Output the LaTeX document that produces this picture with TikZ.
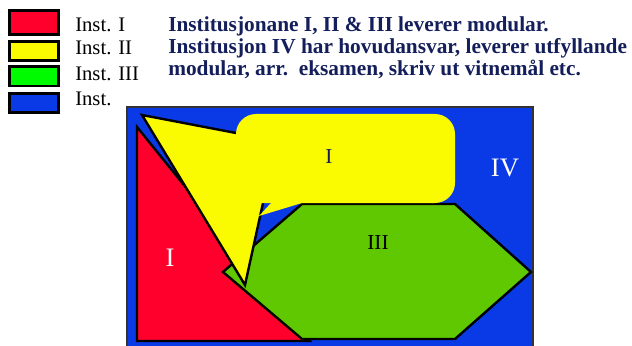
\documentclass[tikz,border=0pt]{standalone}
\usepackage{fontspec}
\setmainfont{Liberation Serif}
\usepackage{tikz}
\usetikzlibrary{positioning}
\definecolor{InstRed}{RGB}{255, 0, 45}
\definecolor{InstYellow}{RGB}{250, 250, 0}
\definecolor{InstGreen}{RGB}{0, 250, 0}
\definecolor{HexGreen}{RGB}{95, 200, 0}
\definecolor{InstBlue}{RGB}{10, 58, 230}
\definecolor{NavyText}{RGB}{20, 30, 90}

\begin{document}
\begin{tikzpicture}[
            x=0.75pt, y=-0.75pt,
            legendbox/.style={draw=black, line width=2pt, minimum width=37pt, minimum height=14.5pt, inner sep=0pt},
            legendtext/.style={anchor=base west, inner sep=0pt, font=\fontsize{15.5}{16}\selectfont},
            headline/.style={anchor=base west, inner sep=0pt, font=\fontsize{16}{16.5}\selectfont\bfseries, text=NavyText},
            region/.style={draw=black, line width=1.8pt, line join=miter},
            bigmark/.style={font=\fontsize{20}{20}\selectfont, text=white},
            smallmark/.style={font=\fontsize{16}{16}\selectfont}
        ]
        \clip (0, 0) rectangle (632, 346);

        % Legend
        \node[legendbox, fill=InstRed, minimum height=18pt] (boxI) at (34, 22.5) {};
        \node[legendbox, fill=InstYellow] (boxII) at (34, 51) {};
        \node[legendbox, fill=InstGreen] (boxIII) at (34, 76.5) {};
        \node[legendbox, fill=InstBlue] (boxIV) at (34, 103) {};
        \node[legendtext] (instI) at (75, 32) {Inst. I};
        \node[legendtext] (instII) at (75, 55) {Inst. II};
        \node[legendtext] (instIII) at (75, 80.5) {Inst. III};
        \node[legendtext] (instIV) at (75, 105) {Inst.};

        % Heading text
        \node[headline] (line1) at (168, 32) {Institusjonane I, II \& III leverer modular.};
        \node[headline] (line2) at (168, 54) {Institusjon IV har hovudansvar, leverer utfyllande};
        \node[headline] (line3) at (168, 76) {modular, arr.\ \ eksamen, skriv ut vitnemål etc.};

        % Institution IV (background)
        \draw[line width=1.5pt, draw=black!80, fill=InstBlue] (127, 107) rectangle (533, 360);

        % Institution I (triangle)
        \draw[region, fill=InstRed] (137, 127) -- (137, 341) -- (310, 341) -- cycle;

        % Institution III (hexagon)
        \draw[region, fill=HexGreen] (223, 272) -- (302, 204) -- (455, 204) -- (531, 272)
            -- (455, 339) -- (302, 339) -- cycle;

        % Institution II (callout)
        \fill[InstYellow] (236, 133) -- (142, 115) -- (245, 285) -- (263, 203) -- cycle;
        \draw[region] (236, 133) -- (142, 115) -- (245, 285) -- (263, 203);
        \fill[InstYellow] (259, 216) -- (271, 203) -- (302, 203) -- cycle;
        \fill[InstYellow, rounded corners=15pt] (236, 114) rectangle (455, 203);

        % Labels
        \node[bigmark] (labI) at (170, 258) {I};
        \node[smallmark, text=NavyText] (labII) at (329, 157) {I};
        \node[smallmark] (labIII) at (378, 243) {III};
        \node[bigmark] (labIV) at (505, 168) {IV};

        \end{tikzpicture}
\end{document}
